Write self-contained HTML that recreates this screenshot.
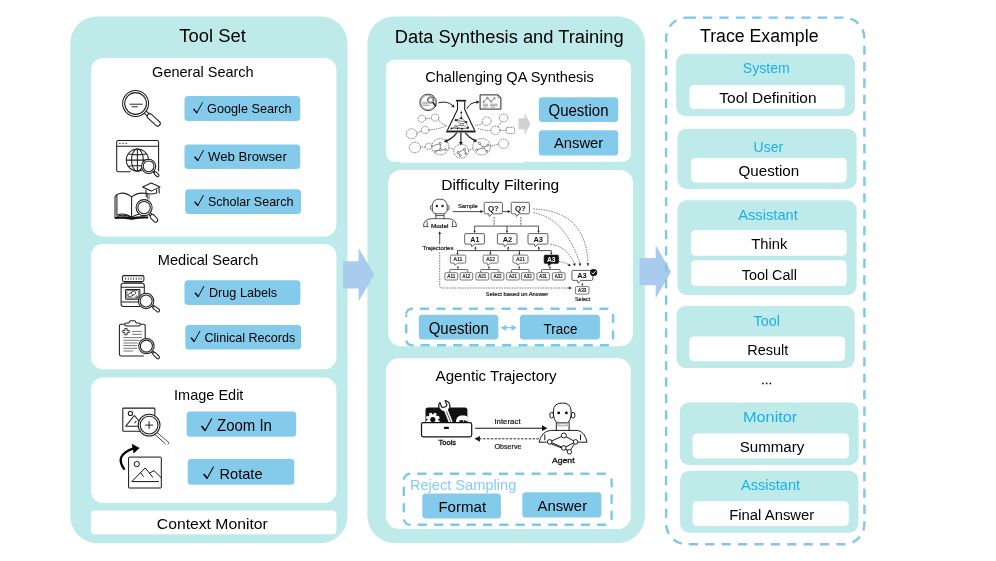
<!DOCTYPE html>
<html><head><meta charset="utf-8"><title>Framework</title>
<style>
html,body{margin:0;padding:0;background:#fff;}
body{width:996px;height:561px;overflow:hidden;font-family:"Liberation Sans",sans-serif;}
svg{will-change:transform;display:block;position:absolute;left:0;top:0;}
svg text{font-family:"Liberation Sans",sans-serif;}
</style></head><body>
<svg width="996" height="561" viewBox="0 0 996 561">
<rect x="70.3" y="16.4" width="277.2" height="526.8" rx="27" ry="27" fill="#BEEBE9" />
<rect x="367.4" y="16.4" width="277.5" height="526.6" rx="27" ry="27" fill="#BEEBE9" />
<rect x="91.0" y="58.0" width="245.4" height="178.6" rx="12" ry="12" fill="#fff" />
<rect x="91.0" y="244.1" width="245.4" height="125.1" rx="12" ry="12" fill="#fff" />
<rect x="91.0" y="377.6" width="245.4" height="125.4" rx="12" ry="12" fill="#fff" />
<rect x="91.0" y="510.5" width="245.4" height="23.8" rx="4" ry="4" fill="#fff" />
<rect x="386.1" y="59.8" width="244.8" height="101.9" rx="8" ry="8" fill="#fff" />
<rect x="388.2" y="170.0" width="244.8" height="176.3" rx="13" ry="13" fill="#fff" />
<rect x="386.0" y="358.2" width="244.8" height="170.8" rx="13" ry="13" fill="#fff" />
<rect x="112" y="86" width="50" height="142" fill="#fefefe"/>
<rect x="112" y="270" width="50" height="94" fill="#fefefe"/>
<rect x="112" y="402" width="58" height="92" fill="#fefefe"/>
<rect x="401" y="86.5" width="122.5" height="76.3" fill="#fefefe"/>
<rect x="416" y="194" width="184" height="110" fill="#fefefe"/>
<rect x="419" y="398.5" width="170" height="67" fill="#fefefe"/>
<path d="M343.1 261.2 H358.6 V248 L374.3 274.7 L358.6 301.4 V288.6 H343.1 Z" fill="#A9CBED"/>
<path d="M639.6 258 H655.7 V245.2 L671.1 271.7 L655.7 298.2 V285.3 H639.6 Z" fill="#A9CBED"/>
<text x="179.3" y="42.1" font-size="18" fill="#000" font-weight="normal" textLength="66.5" lengthAdjust="spacingAndGlyphs" >Tool Set</text>
<text x="152.1" y="77.4" font-size="14.8" fill="#000" font-weight="normal" textLength="101.6" lengthAdjust="spacingAndGlyphs" >General Search</text>
<text x="157.8" y="265.0" font-size="14.8" fill="#000" font-weight="normal" textLength="100.6" lengthAdjust="spacingAndGlyphs" >Medical Search</text>
<text x="174.0" y="400.0" font-size="14.8" fill="#000" font-weight="normal" textLength="69.4" lengthAdjust="spacingAndGlyphs" >Image Edit</text>
<text x="156.8" y="528.6" font-size="14.8" fill="#000" font-weight="normal" textLength="111.0" lengthAdjust="spacingAndGlyphs" >Context Monitor</text>
<rect x="184.5" y="96.0" width="115.7" height="25.0" rx="3.5" ry="3.5" fill="#84CBEB" />
<path d="M193.60 109.00 L197.05 113.10" fill="none" stroke="#000" stroke-width="1.45" stroke-linecap="butt"/><path d="M196.60 113.30 L202.60 102.40" fill="none" stroke="#000" stroke-width="0.95" stroke-linecap="butt"/>
<text x="207.1" y="113.2" font-size="13.3" fill="#000" font-weight="normal" textLength="84.5" lengthAdjust="spacingAndGlyphs" >Google Search</text>
<rect x="184.5" y="144.6" width="115.7" height="24.3" rx="3.5" ry="3.5" fill="#84CBEB" />
<path d="M194.60 156.70 L198.05 160.80" fill="none" stroke="#000" stroke-width="1.45" stroke-linecap="butt"/><path d="M197.60 161.00 L203.60 150.10" fill="none" stroke="#000" stroke-width="0.95" stroke-linecap="butt"/>
<text x="208.0" y="160.9" font-size="13.3" fill="#000" font-weight="normal" textLength="78.8" lengthAdjust="spacingAndGlyphs" >Web Browser</text>
<rect x="185.2" y="189.3" width="115.8" height="24.7" rx="3.5" ry="3.5" fill="#84CBEB" />
<path d="M194.60 201.60 L198.05 205.70" fill="none" stroke="#000" stroke-width="1.45" stroke-linecap="butt"/><path d="M197.60 205.90 L203.60 195.00" fill="none" stroke="#000" stroke-width="0.95" stroke-linecap="butt"/>
<text x="207.9" y="205.8" font-size="13.3" fill="#000" font-weight="normal" textLength="85.6" lengthAdjust="spacingAndGlyphs" >Scholar Search</text>
<rect x="184.5" y="280.2" width="115.9" height="24.9" rx="3.5" ry="3.5" fill="#84CBEB" />
<path d="M195.00 292.70 L198.45 296.80" fill="none" stroke="#000" stroke-width="1.45" stroke-linecap="butt"/><path d="M198.00 297.00 L204.00 286.10" fill="none" stroke="#000" stroke-width="0.95" stroke-linecap="butt"/>
<text x="209.0" y="296.9" font-size="13.3" fill="#000" font-weight="normal" textLength="68.1" lengthAdjust="spacingAndGlyphs" >Drug Labels</text>
<rect x="185.3" y="324.9" width="115.9" height="24.6" rx="3.5" ry="3.5" fill="#84CBEB" />
<path d="M191.00 337.60 L194.45 341.70" fill="none" stroke="#000" stroke-width="1.45" stroke-linecap="butt"/><path d="M194.00 341.90 L200.00 331.00" fill="none" stroke="#000" stroke-width="0.95" stroke-linecap="butt"/>
<text x="204.5" y="341.8" font-size="13.3" fill="#000" font-weight="normal" textLength="90.8" lengthAdjust="spacingAndGlyphs" >Clinical Records</text>
<rect x="186.6" y="411.5" width="109.6" height="25.3" rx="3.5" ry="3.5" fill="#84CBEB" />
<path d="M201.44 426.07 L205.41 430.78" fill="none" stroke="#000" stroke-width="1.67" stroke-linecap="butt"/><path d="M204.89 431.01 L211.79 418.48" fill="none" stroke="#000" stroke-width="1.09" stroke-linecap="butt"/>
<text x="217.0" y="430.9" font-size="16" fill="#000" font-weight="normal" textLength="54.9" lengthAdjust="spacingAndGlyphs" >Zoom In</text>
<rect x="187.7" y="459.1" width="106.6" height="25.7" rx="3.5" ry="3.5" fill="#84CBEB" />
<path d="M203.63 473.98 L207.43 478.49" fill="none" stroke="#000" stroke-width="1.59" stroke-linecap="butt"/><path d="M206.93 478.71 L213.53 466.72" fill="none" stroke="#000" stroke-width="1.04" stroke-linecap="butt"/>
<text x="219.5" y="478.6" font-size="15" fill="#000" font-weight="normal" textLength="43.0" lengthAdjust="spacingAndGlyphs" >Rotate</text>
<text x="394.8" y="43.3" font-size="18" fill="#000" font-weight="normal" textLength="228.8" lengthAdjust="spacingAndGlyphs" >Data Synthesis and Training</text>
<text x="425.2" y="82.1" font-size="14.8" fill="#000" font-weight="normal" textLength="168.7" lengthAdjust="spacingAndGlyphs" >Challenging QA Synthesis</text>
<text x="441.2" y="190.0" font-size="14.8" fill="#000" font-weight="normal" textLength="118.0" lengthAdjust="spacingAndGlyphs" >Difficulty Filtering</text>
<text x="435.6" y="381.0" font-size="14.8" fill="#000" font-weight="normal" textLength="121.1" lengthAdjust="spacingAndGlyphs" >Agentic Trajectory</text>
<rect x="538.8" y="97.3" width="79.4" height="24.8" rx="3.5" ry="3.5" fill="#84CBEB" />
<text x="548.5" y="115.5" font-size="16" fill="#000" font-weight="normal" textLength="60.0" lengthAdjust="spacingAndGlyphs" >Question</text>
<rect x="538.8" y="130.3" width="79.4" height="25.2" rx="3.5" ry="3.5" fill="#84CBEB" />
<text x="553.9" y="148.1" font-size="15.5" fill="#000" font-weight="normal" textLength="49.4" lengthAdjust="spacingAndGlyphs" >Answer</text>
<path d="M518.5 118.2 H524.5 V112.6 L530.6 123.95 L524.5 135.3 V129.3 H518.5 Z" fill="#D2D2D2"/>
<path d="M406.2 314.5 A5.8 5.8 0 0 1 412.0 308.7 H607.3000000000001 A5.8 5.8 0 0 1 613.1 314.5 V339.4 A5.8 5.8 0 0 1 607.3000000000001 345.2 H412.0 A5.8 5.8 0 0 1 406.2 339.4 Z" fill="none" stroke="#7CC7EA" stroke-width="2.4" stroke-dasharray="9.15 7.15" stroke-dashoffset="-0.6"/>
<rect x="418.8" y="314.7" width="79.5" height="24.8" rx="3.5" ry="3.5" fill="#84CBEB" />
<text x="428.7" y="333.7" font-size="15.8" fill="#000" font-weight="normal" textLength="60.1" lengthAdjust="spacingAndGlyphs" >Question</text>
<rect x="519.9" y="314.7" width="80.0" height="24.8" rx="3.5" ry="3.5" fill="#84CBEB" />
<text x="543.6" y="333.9" font-size="15.2" fill="#000" font-weight="normal" textLength="33.8" lengthAdjust="spacingAndGlyphs" >Trace</text>
<path d="M505 327.7 H512.5" stroke="#7CC7EA" stroke-width="1.3"/><path d="M500.6 327.7 l5.6 -3 v6z M517 327.7 l-5.6 -3 v6z" fill="#7CC7EA"/>
<path d="M403.8 480.3 A6.5 6.5 0 0 1 410.3 473.8 H605.1 A6.5 6.5 0 0 1 611.6 480.3 V518.3 A6.5 6.5 0 0 1 605.1 524.8 H410.3 A6.5 6.5 0 0 1 403.8 518.3 Z" fill="none" stroke="#7CC7EA" stroke-width="2.4" stroke-dasharray="9.15 7.15" stroke-dashoffset="-0.7"/>
<text x="409.9" y="489.6" font-size="14" fill="#86CCEE" font-weight="normal" textLength="106.4" lengthAdjust="spacingAndGlyphs" >Reject Sampling</text>
<rect x="422.3" y="493.4" width="78.6" height="25.0" rx="3.5" ry="3.5" fill="#84CBEB" />
<text x="438.4" y="512.0" font-size="15" fill="#000" font-weight="normal" textLength="47.7" lengthAdjust="spacingAndGlyphs" >Format</text>
<rect x="522.3" y="492.3" width="79.1" height="25.3" rx="3.5" ry="3.5" fill="#84CBEB" />
<text x="537.5" y="511.4" font-size="15" fill="#000" font-weight="normal" textLength="49.6" lengthAdjust="spacingAndGlyphs" >Answer</text>
<rect x="666.1" y="17.65" width="198.3" height="526.6" rx="20.5" fill="none" stroke="#7CC7EA" stroke-width="2.4" stroke-dasharray="9.2 7.2"/>
<text x="700.0" y="42.3" font-size="17.6" fill="#000" font-weight="normal" textLength="118.5" lengthAdjust="spacingAndGlyphs" >Trace Example</text>
<rect x="676.2" y="53.8" width="178.8" height="62.1" rx="9" ry="9" fill="#BEEBE9" />
<text x="742.8" y="72.9" font-size="14.3" fill="#1CAEEB" font-weight="normal" textLength="46.9" lengthAdjust="spacingAndGlyphs" >System</text>
<rect x="689.5" y="85.1" width="155.3" height="23.8" rx="4.5" ry="4.5" fill="#fff" />
<text x="719.3" y="102.9" font-size="14" fill="#000" font-weight="normal" textLength="97.3" lengthAdjust="spacingAndGlyphs" >Tool Definition</text>
<rect x="677.5" y="128.7" width="179.1" height="60.3" rx="9" ry="9" fill="#BEEBE9" />
<text x="753.6" y="152.1" font-size="14.3" fill="#1CAEEB" font-weight="normal" textLength="29.5" lengthAdjust="spacingAndGlyphs" >User</text>
<rect x="691.0" y="157.9" width="155.7" height="24.7" rx="4.5" ry="4.5" fill="#fff" />
<text x="738.5" y="176.2" font-size="14" fill="#000" font-weight="normal" textLength="60.7" lengthAdjust="spacingAndGlyphs" >Question</text>
<rect x="677.5" y="200.3" width="179.1" height="94.7" rx="9" ry="9" fill="#BEEBE9" />
<text x="738.2" y="220.2" font-size="14.3" fill="#1CAEEB" font-weight="normal" textLength="59.7" lengthAdjust="spacingAndGlyphs" >Assistant</text>
<rect x="691.0" y="230.1" width="155.7" height="25.7" rx="4.5" ry="4.5" fill="#fff" />
<text x="751.3" y="249.4" font-size="14" fill="#000" font-weight="normal" textLength="36.0" lengthAdjust="spacingAndGlyphs" >Think</text>
<rect x="691.0" y="260.3" width="155.7" height="25.7" rx="4.5" ry="4.5" fill="#fff" />
<text x="741.7" y="279.5" font-size="14" fill="#000" font-weight="normal" textLength="55.2" lengthAdjust="spacingAndGlyphs" >Tool Call</text>
<rect x="676.5" y="306.0" width="178.2" height="62.0" rx="9" ry="9" fill="#BEEBE9" />
<text x="753.6" y="326.0" font-size="14.3" fill="#1CAEEB" font-weight="normal" textLength="26.3" lengthAdjust="spacingAndGlyphs" >Tool</text>
<rect x="689.4" y="336.5" width="155.7" height="24.8" rx="4.5" ry="4.5" fill="#fff" />
<text x="747.2" y="355.2" font-size="14" fill="#000" font-weight="normal" textLength="41.1" lengthAdjust="spacingAndGlyphs" >Result</text>
<path d="M762.2 382.7h1.5v1.5h-1.5z M765.9 382.7h1.5v1.5h-1.5z M769.6 382.7h1.5v1.5h-1.5z" fill="#000"/>
<rect x="679.8" y="402.4" width="178.8" height="62.6" rx="9" ry="9" fill="#BEEBE9" />
<text x="743.0" y="422.3" font-size="14.3" fill="#1CAEEB" font-weight="normal" textLength="54.3" lengthAdjust="spacingAndGlyphs" >Monitor</text>
<rect x="692.6" y="433.5" width="156.3" height="25.0" rx="4.5" ry="4.5" fill="#fff" />
<text x="739.8" y="451.5" font-size="14" fill="#000" font-weight="normal" textLength="64.5" lengthAdjust="spacingAndGlyphs" >Summary</text>
<rect x="680.1" y="470.8" width="178.3" height="61.9" rx="9" ry="9" fill="#BEEBE9" />
<text x="740.9" y="490.1" font-size="14.3" fill="#1CAEEB" font-weight="normal" textLength="59.3" lengthAdjust="spacingAndGlyphs" >Assistant</text>
<rect x="692.6" y="501.3" width="156.1" height="24.8" rx="4.5" ry="4.5" fill="#fff" />
<text x="729.2" y="519.6" font-size="14" fill="#000" font-weight="normal" textLength="85.1" lengthAdjust="spacingAndGlyphs" >Final Answer</text>
<g stroke="#1e1e1e" stroke-width="1.05" fill="none"><g transform="translate(145.24 112.22) rotate(42.1)"><rect x="3.48" y="-2.60" width="15.87" height="5.20" rx="2.60" fill="#fff"/><path d="M-0.3 -1.46 L3.87 -1.46 M-0.3 1.46 L3.87 1.46"/></g><circle cx="135.6" cy="103.5" r="13" fill="#fff"/><circle cx="135.6" cy="103.5" r="10.9"/></g>
<path d="M129.7 104.2 H142.5 M131.7 106.8 H137.8" stroke="#1e1e1e" stroke-width="0.95" fill="none"/>
<g stroke="#1e1e1e" stroke-width="1.05" fill="none"><path d="M130.7 171.7 H118.2 a1.5 1.5 0 0 1 -1.5 -1.5 V142 a1.5 1.5 0 0 1 1.5 -1.5 H157.1 a1.5 1.5 0 0 1 1.5 1.5 V171.2"/><path d="M116.7 146.3 H158.6"/><circle cx="137.4" cy="160.1" r="11.1"/><ellipse cx="137.4" cy="160.1" rx="5.9" ry="11.1"/><path d="M137.4 149 V171.2 M126.3 160.1 H148.5 M128.3 154.1 Q137.4 155.6 146.5 154.1 M128.3 166.3 Q137.4 164.8 146.5 166.3"/></g>
<g fill="#1e1e1e"><circle cx="119.9" cy="143.4" r="0.65"/><circle cx="123" cy="143.4" r="0.65"/><circle cx="126.1" cy="143.4" r="0.65"/></g>
<g stroke="#1e1e1e" stroke-width="1.05" fill="none"><g transform="translate(153.62 171.32) rotate(45.0)"><rect x="1.27" y="-1.30" width="5.77" height="2.60" rx="1.30" fill="#fff"/><path d="M-0.3 -0.73 L1.41 -0.73 M-0.3 0.73 L1.41 0.73"/></g><circle cx="148.6" cy="166.3" r="7.1" fill="#fff"/><circle cx="148.6" cy="166.3" r="5.4"/></g>
<g stroke="#1e1e1e" stroke-width="1.05" fill="none" stroke-linejoin="round"><path d="M115 196.8 V218.2 M116.9 194.6 V215.6"/><path d="M115 196.8 L116.9 194.6 Q124 190.8 131.6 196.9 Q138 191.8 146.3 193.6 V197"/><path d="M131.6 196.9 V217.4"/><path d="M116.9 215.2 Q124.5 212.2 131.6 217.2 Q135.5 214.6 139 214.2"/><path d="M116.9 216.4 Q124.5 213.8 131.6 217.6"/></g>
<path d="M115 217 Q124 215.6 131.6 217.2 Q140 215.8 148.2 216.6 L148.2 218.6 Q140 218.2 133.4 219.4 Q131.6 220.2 129.8 219.4 Q123 218.2 115 219 Z" fill="#111"/>
<g stroke="#1e1e1e" stroke-width="1.05" fill="#fff" stroke-linejoin="round"><path d="M145.9 189.6 V193 Q151.2 195 156.6 193 V189.6"/><path d="M142.6 187.1 L151.2 183.1 L160.1 186.9 L151.2 191.1 Z"/><path d="M158.9 187.6 L159.3 193.4" fill="none" stroke-width="1.1"/><path d="M147.4 194 V199 M149 194.4 V199.6" fill="none" stroke-width="0.7"/></g>
<g stroke="#1e1e1e" stroke-width="1.05" fill="none"><g transform="translate(149.52 213.48) rotate(47.3)"><rect x="1.99" y="-2.20" width="9.05" height="4.40" rx="2.20" fill="#fff"/><path d="M-0.3 -1.23 L2.21 -1.23 M-0.3 1.23 L2.21 1.23"/></g><circle cx="144.1" cy="207.6" r="8" fill="#fff"/><circle cx="144.1" cy="207.6" r="6.2"/></g>
<g stroke="#1e1e1e" stroke-width="1.05" fill="none"><rect x="122.5" y="275.6" width="21.4" height="5.8" rx="1.4" fill="#fff"/><path d="M125.6 277.4 V279.9 M128.3 277.4 V279.9 M131 277.4 V279.9 M133.6 277.4 V279.9 M136.3 277.4 V279.9 M139 277.4 V279.9 M141.2 277.4 V279.9" stroke-width="0.7"/><path d="M124.7 281.4 V283.3 M141.6 281.4 V283.3 M124.7 282.4 H141.6" stroke-width="0.7"/><rect x="121.1" y="283.3" width="23.2" height="23.2" rx="2.2" fill="#fff"/><path d="M121.1 287.2 H144.3 M121.1 301.9 H139"/><rect x="125.6" y="289.4" width="14.3" height="9.8" rx="0.8"/><rect x="126.9" y="290.6" width="11.7" height="7.4" rx="0.5" stroke-width="0.6"/><g transform="translate(131.8 294) rotate(-30)"><rect x="-4.2" y="-1.7" width="8.4" height="3.4" rx="1.7" stroke-width="0.8"/><path d="M0 -1.7 V1.7" stroke-width="0.6"/></g><circle cx="136.8" cy="296.8" r="1" stroke-width="0.7"/></g>
<g stroke="#1e1e1e" stroke-width="1.05" fill="none"><g transform="translate(152.13 305.79) rotate(38.4)"><rect x="1.62" y="-1.50" width="7.40" height="3.00" rx="1.50" fill="#fff"/><path d="M-0.3 -0.84 L1.81 -0.84 M-0.3 0.84 L1.81 0.84"/></g><circle cx="146.1" cy="301" r="7.7" fill="#fff"/><circle cx="146.1" cy="301" r="6"/></g>
<g stroke="#1e1e1e" stroke-width="1.05" fill="none" stroke-linejoin="round"><path d="M143.8 355.9 H121.2 a1.8 1.8 0 0 1 -1.8 -1.8 V326 a1.8 1.8 0 0 1 1.8 -1.8 H143.4 a1.8 1.8 0 0 1 1.8 1.8 V339" fill="#fff"/><path d="M124.7 324.4 q0 -1.5 1.6 -1.5 h2.2 q0.6 0 0.7 -0.8 q0.2 -1.4 1.4 -1.4 h3.8 q1.2 0 1.4 1.4 q0.1 0.8 0.7 0.8 h2.2 q1.6 0 1.6 1.5 q0 1.6 -1.6 1.6 h-12.4 q-1.6 0 -1.6 -1.6 z" fill="#fff"/><path d="M124.9 328.4 h2.2 v2.1 h2.1 v2.2 h-2.1 v2.1 h-2.2 v-2.1 h-2.1 v-2.2 h2.1 z" stroke-width="0.9"/></g>
<path d="M132.1 331.4 H141.9 M132.1 334.3 H141.9 M123.4 337.6 H141.9 M123.4 340.3 H139.4 M123.4 343 H137.6 M123.4 345.6 H137.2 M123.4 348.3 H137.2 M123.4 351 H133.2" stroke="#555" stroke-width="0.8" fill="none"/>
<g stroke="#1e1e1e" stroke-width="1.05" fill="none"><g transform="translate(151.93 351.46) rotate(44.1)"><rect x="1.77" y="-1.50" width="8.07" height="3.00" rx="1.50" fill="#fff"/><path d="M-0.3 -0.84 L1.97 -0.84 M-0.3 0.84 L1.97 0.84"/></g><circle cx="146.4" cy="346.1" r="7.7" fill="#fff"/><circle cx="146.4" cy="346.1" r="6"/></g>
<g stroke="#1e1e1e" stroke-width="1.05" fill="none" stroke-linejoin="round"><rect x="122.8" y="408.1" width="32" height="23.1" rx="0.8" fill="#fff"/><circle cx="130.4" cy="413.4" r="2.1"/><path d="M125.6 426.3 L134.4 415.5 L140.5 422.6 M136.4 421 L134.6 423.2 M125.6 426.3 H139.5"/></g>
<g stroke="#1e1e1e" stroke-width="0.8" fill="none"><path d="M156.6 432.0 L168.4 442.2 q0.8 1.4 -0.6 2.2 M154.6 434.2 L165.6 444.0"/></g>
<g stroke="#1e1e1e" stroke-width="1.05" fill="none"><circle cx="149.1" cy="425.1" r="10.9" fill="#fff"/><circle cx="149.1" cy="425.1" r="8.9"/><path d="M145.2 425.1 H153 M149.1 421.2 V429" stroke-width="1"/></g>
<g stroke="#111" stroke-width="1" fill="none" stroke-linejoin="round"><rect x="128.6" y="457.1" width="32.7" height="30.9" rx="0.6" fill="#fff"/><circle cx="136.8" cy="464.1" r="2.6"/><path d="M131.6 481.6 H158.9 M132.4 481 L145.2 467.9 L153 477.6 M140.6 472.8 L143.6 476.6 M149.4 473.2 L154 470.6 L161.3 477.8"/></g>
<path d="M124.6 469.6 Q113.6 455.4 133.4 448.3" stroke="#000" stroke-width="2.3" fill="none"/>
<path d="M131.8 443.8 L139.6 448 L133.6 453.4 Z" fill="#000"/>
<g stroke="#222" stroke-width="0.65" fill="none" stroke-dasharray="1 0.8"><ellipse cx="421.8" cy="118.7" rx="3.8" ry="3.57"/><ellipse cx="435.1" cy="117.6" rx="3.8" ry="3.57"/><ellipse cx="411.6" cy="133.8" rx="5.3" ry="4.98"/><ellipse cx="425.1" cy="130" rx="3.8" ry="3.57"/><ellipse cx="414.9" cy="147.5" rx="5.6" ry="5.26"/><ellipse cx="428.6" cy="146.2" rx="3.3" ry="3.10"/><ellipse cx="440.3" cy="146.7" rx="8.6" ry="8.08"/><ellipse cx="461.2" cy="151.2" rx="7.4" ry="6.96"/><ellipse cx="481.6" cy="146.7" rx="8.8" ry="8.27"/><ellipse cx="503.6" cy="143.7" rx="5" ry="4.70"/><ellipse cx="486.5" cy="121.2" rx="4.5" ry="4.23"/><ellipse cx="503.6" cy="117.9" rx="4.2" ry="3.95"/><ellipse cx="495.3" cy="130.3" rx="4.5" ry="4.23"/><rect x="506.2" y="127.3" width="8.3" height="6.1" rx="1.2"/><path d="M425.6 118.4 H431.3 M438.6 119.5 Q441 124.5 446.5 125.5 M417 133 L421.4 131 M428.9 130 Q438 129.5 446.8 125.8 M420.5 147 H425.3 M431.9 146.2 H434 M448.9 147.5 L454 149.5 M468.6 150.5 L473 148.5 M490.4 146 L498.6 144.3 M475 125 Q480 126 482.3 122.5 M478 128.5 Q486 131 490.8 130.4 M499.8 130.3 H506.2 M498 126.8 L501.5 121.6"/></g>
<g stroke="#1c1c1c" stroke-width="0.5" fill="#fff"><path d="M440.3 143.6 L440.3 149.8 M436 151 L440.3 149.8 L445.5 149.6 M433.6 145.5 L440.3 143.6" fill="none"/><circle cx="440.3" cy="143.4" r="1.1"/><circle cx="440.3" cy="149.8" r="1.1"/><circle cx="435.6" cy="151.2" r="1"/><circle cx="445.6" cy="149.6" r="1"/><path d="M458 152.6 L464.6 149.4 L465.6 153.4 M458 152.6 L460.4 155.4" fill="none"/><circle cx="458" cy="152.6" r="1.1"/><circle cx="464.6" cy="149.2" r="1.1"/><circle cx="465.8" cy="153.6" r="0.9"/><circle cx="460.4" cy="155.6" r="0.9"/><path d="M479.6 143.6 L483.4 147.4 L487.6 145.4 M476.8 150 L483.4 147.4 L486.6 151" fill="none"/><circle cx="479.4" cy="143.4" r="1.1"/><circle cx="483.4" cy="147.4" r="1.2"/><circle cx="487.8" cy="145.2" r="1"/><circle cx="476.6" cy="150.2" r="1"/><circle cx="486.8" cy="151.2" r="1"/></g>
<g stroke="#1c1c1c" fill="none" stroke-linejoin="round"><path d="M455.9 100.7 H466.1" stroke-width="1.7"/><path d="M457.5 101.4 V109.6 L447.3 130.4 M464.7 101.4 V109.6 L474.7 130.4" stroke-width="1.1"/><path d="M446.2 131.5 H475.6" stroke-width="1.9"/><path d="M461.3 112.4 V118.2 L455.9 120.1 L466.2 122 L461.7 124.6 L455.9 120.1 M461.7 124.6 L455.3 126.5 L451.4 128.5 H468.1 L461.7 124.6 M455.3 126.5 L462.1 128.8 M466.2 122 L468.1 127.8 M461.3 118.2 L466.2 122" stroke-width="0.5"/></g>
<g fill="#1c1c1c"><circle cx="461.3" cy="112.4" r="0.95"/><circle cx="461.3" cy="118.2" r="1.15"/><circle cx="455.9" cy="120.1" r="1.2"/><circle cx="466.2" cy="122" r="1.1"/><circle cx="451.4" cy="128.5" r="0.95"/><circle cx="462.1" cy="128.8" r="1"/><circle cx="468.1" cy="127.8" r="1"/><circle cx="457.6" cy="128.6" r="0.8"/></g>
<circle cx="461.7" cy="124.6" r="1.35" fill="#fff" stroke="#1c1c1c" stroke-width="0.6"/><circle cx="455.3" cy="126.5" r="1" fill="#fff" stroke="#1c1c1c" stroke-width="0.55"/>
<path d="M460.9 132.6 V142.6 M456.8 132.8 Q452.4 138.4 447 140.6 M465.2 132.8 Q469.2 137.6 474.2 140.1" stroke="#1c1c1c" stroke-width="1.2" fill="none"/>
<path d="M460.90 145.60 L459.00 142.00 L462.80 142.00 Z" fill="#1c1c1c"/>
<path d="M443.80 142.10 L446.46 139.08 L447.81 142.42 Z" fill="#1c1c1c"/>
<path d="M477.20 141.80 L473.18 141.70 L474.87 138.52 Z" fill="#1c1c1c"/>
<g stroke="#1c1c1c" stroke-width="0.8" fill="none"><circle cx="428.1" cy="102.4" r="8.3"/><circle cx="428.1" cy="102.4" r="7.3" stroke-width="0.4"/><circle cx="430.6" cy="100" r="3.2" stroke-width="0.7"/><circle cx="430.6" cy="100" r="2.2" stroke-width="0.4"/><path d="M432.8 102.4 L436 106.2" stroke-width="1.5"/><path d="M422.4 102.2 H427 M422.4 103.8 H428.6 M422.4 105.4 H430" stroke="#666" stroke-width="0.6"/></g>
<path d="M438.4 102.8 Q447.6 100.6 452.4 105.4" stroke="#1c1c1c" stroke-width="1" fill="none"/>
<path d="M454.80 107.60 L451.20 106.51 L453.34 104.14 Z" fill="#1c1c1c"/>
<path d="M466.9 108.8 Q469.8 102.6 476.8 102.2" stroke="#1c1c1c" stroke-width="1" fill="none"/>
<path d="M479.80 102.10 L476.46 103.82 L476.35 100.62 Z" fill="#1c1c1c"/>
<g stroke="#1c1c1c" stroke-width="0.95" fill="none" stroke-linejoin="round"><path d="M480.1 94.9 H498 L500.9 97.6 V109.1 H480.1 Z" fill="#fff"/><path d="M498 94.9 V97.6 H500.9" stroke-width="0.5"/><path d="M483.6 102 L487.4 97.8 L491 101.6 L494.6 98.2" stroke-width="0.6"/><path d="M483 104.2 H488 M490 104.2 H497.6 M483 105.6 H488 M490 105.6 H497.6 M483.6 107.2 H487.4 M490.6 107.2 H495" stroke="#666" stroke-width="0.6"/></g>
<g fill="#fff" stroke="#1c1c1c" stroke-width="0.45"><circle cx="483.6" cy="102" r="0.8"/><circle cx="487.4" cy="97.8" r="0.8"/><circle cx="491" cy="101.6" r="0.8"/><circle cx="494.6" cy="98.2" r="0.8"/></g>
<g stroke="#1c1c1c" stroke-width="0.75" fill="#fff" stroke-linejoin="round"><path d="M423.5 226.6 H428.6 M451.5 226.6 H456.4 M423.5 226.6 Q423.4 219.2 431 218.7 H449 Q456.4 219.2 456.4 226.6 M427.2 221 V226.6 M452.6 221 V226.6" fill="none"/><path d="M435.8 213 V218.7 M444 213 V218.7 M435.8 215.6 H444" fill="none"/><ellipse cx="431.7" cy="207.7" rx="1.3" ry="2.3"/><ellipse cx="447.8" cy="207.7" rx="1.3" ry="2.3"/><path d="M432.3 206.4 Q432.3 199.1 439.75 199.1 Q447.2 199.1 447.2 206.4 V209 Q447.2 213.8 442.6 213.8 H436.9 Q432.3 213.8 432.3 209 Z"/></g>
<circle cx="436.9" cy="206" r="1.2" fill="#1c1c1c"/><circle cx="442.5" cy="206" r="1.2" fill="#1c1c1c"/>
<text x="431" y="227.5" font-size="6.2" fill="#111" stroke="#111" stroke-width="0.22" textLength="17.4" lengthAdjust="spacingAndGlyphs">Model</text>
<text x="457.9" y="207.9" font-size="5.6" font-weight="normal" fill="#111" stroke="#111" stroke-width="0.16" textLength="19.9" lengthAdjust="spacingAndGlyphs">Sample</text>
<text x="422.4" y="249.6" font-size="5.6" font-weight="normal" fill="#111" stroke="#111" stroke-width="0.16" textLength="31.0" lengthAdjust="spacingAndGlyphs">Trajectories</text>
<path d="M452.9 211.6 H480.6 M502.4 211.6 H507.6" stroke="#1c1c1c" stroke-width="0.8" fill="none"/>
<path d="M483.60 211.60 L480.40 213.10 L480.40 210.10 Z" fill="#1c1c1c"/>
<path d="M510.60 211.60 L507.60 213.10 L507.60 210.10 Z" fill="#1c1c1c"/>
<path d="M485.5 202.3 H501.09999999999997 Q502.4 202.3 502.4 203.60000000000002 V212.5 Q502.4 213.8 501.09999999999997 213.8 H492.3 L489.3 216.4 L488.7 213.8 H485.5 Q484.2 213.8 484.2 212.5 V203.60000000000002 Q484.2 202.3 485.5 202.3 Z" fill="#fff" stroke="#1c1c1c" stroke-width="0.7" stroke-linejoin="round"/>
<text x="487.9" y="211.2" font-size="7.6" font-weight="bold" fill="#111" textLength="11.0" lengthAdjust="spacingAndGlyphs">Q?</text>
<path d="M512.5 202.3 H528.1 Q529.4 202.3 529.4 203.60000000000002 V212.5 Q529.4 213.8 528.1 213.8 H519.3000000000001 L516.3000000000001 216.4 L515.7 213.8 H512.5 Q511.2 213.8 511.2 212.5 V203.60000000000002 Q511.2 202.3 512.5 202.3 Z" fill="#fff" stroke="#1c1c1c" stroke-width="0.7" stroke-linejoin="round"/>
<text x="514.9" y="211.2" font-size="7.6" font-weight="bold" fill="#111" textLength="11.0" lengthAdjust="spacingAndGlyphs">Q?</text>
<path d="M494.1 217 V226 M520.9 217 V226" stroke="#333" stroke-width="1" stroke-dasharray="0.75 0.75" fill="none"/>
<path d="M474.6 231 V226.1 H538.5 V231 M507 226.1 V231" stroke="#1c1c1c" stroke-width="0.75" fill="none"/>
<path d="M474.60 233.20 L473.50 230.80 L475.70 230.80 Z" fill="#1c1c1c"/>
<path d="M507.00 233.20 L505.90 230.80 L508.10 230.80 Z" fill="#1c1c1c"/>
<path d="M538.50 233.20 L537.40 230.80 L539.60 230.80 Z" fill="#1c1c1c"/>
<path d="M466.0 233.6 H483.09999999999997 Q484.4 233.6 484.4 234.9 V242.79999999999998 Q484.4 244.1 483.09999999999997 244.1 H474.70000000000005 L471.70000000000005 246.7 L471.1 244.1 H466.0 Q464.7 244.1 464.7 242.79999999999998 V234.9 Q464.7 233.6 466.0 233.6 Z" fill="#fff" stroke="#1c1c1c" stroke-width="0.7" stroke-linejoin="round"/>
<text x="470.3" y="241.9" font-size="7.4" font-weight="bold" fill="#111" textLength="9.0" lengthAdjust="spacingAndGlyphs">A1</text>
<path d="M498.7 233.6 H515.7 Q517 233.6 517 234.9 V242.79999999999998 Q517 244.1 515.7 244.1 H507.40000000000003 L504.40000000000003 246.7 L503.8 244.1 H498.7 Q497.4 244.1 497.4 242.79999999999998 V234.9 Q497.4 233.6 498.7 233.6 Z" fill="#fff" stroke="#1c1c1c" stroke-width="0.7" stroke-linejoin="round"/>
<text x="502.7" y="241.9" font-size="7.4" font-weight="bold" fill="#111" textLength="9.5" lengthAdjust="spacingAndGlyphs">A2</text>
<path d="M529.3 233.6 H546.6 Q547.9 233.6 547.9 234.9 V242.79999999999998 Q547.9 244.1 546.6 244.1 H538.0 L535.0 246.7 L534.4 244.1 H529.3 Q528 244.1 528 242.79999999999998 V234.9 Q528 233.6 529.3 233.6 Z" fill="#fff" stroke="#1c1c1c" stroke-width="0.7" stroke-linejoin="round"/>
<text x="533.4" y="241.9" font-size="7.4" font-weight="bold" fill="#111" textLength="9.6" lengthAdjust="spacingAndGlyphs">A3</text>
<path d="M475.4 250.6 V248 M508.2 250.6 V248 M538.8 250.6 V248" stroke="#1c1c1c" stroke-width="0.7" fill="none"/>
<path d="M475.40 246.20 L476.40 248.40 L474.40 248.40 Z" fill="#1c1c1c"/>
<path d="M508.20 246.20 L509.20 248.40 L507.20 248.40 Z" fill="#1c1c1c"/>
<path d="M538.80 246.20 L539.80 248.40 L537.80 248.40 Z" fill="#1c1c1c"/>
<path d="M457.5 253.4 V250.6 H551.3 V253.4 M490.4 250.6 V253.4 M519.4 250.6 V253.4" stroke="#1c1c1c" stroke-width="0.8" fill="none"/>
<path d="M457.50 255.00 L456.50 253.00 L458.50 253.00 Z" fill="#1c1c1c"/>
<path d="M490.40 255.00 L489.40 253.00 L491.40 253.00 Z" fill="#1c1c1c"/>
<path d="M519.40 255.00 L518.40 253.00 L520.40 253.00 Z" fill="#1c1c1c"/>
<path d="M551.30 255.00 L550.30 253.00 L552.30 253.00 Z" fill="#1c1c1c"/>
<path d="M451.7 255.1 H464.4 Q465.7 255.1 465.7 256.4 V261.8 Q465.7 263.1 464.4 263.1 H457.8 L454.8 265.3 L454.2 263.1 H451.7 Q450.4 263.1 450.4 261.8 V256.4 Q450.4 255.1 451.7 255.1 Z" fill="#fff" stroke="#1c1c1c" stroke-width="0.6" stroke-linejoin="round"/>
<text x="453.6" y="261.4" font-size="4.9" font-weight="normal" fill="#111" stroke="#111" stroke-width="0.16" textLength="8.9" lengthAdjust="spacingAndGlyphs">A11</text>
<path d="M484.5 255.1 H496.8 Q498.1 255.1 498.1 256.4 V261.8 Q498.1 263.1 496.8 263.1 H490.6 L487.6 265.3 L487 263.1 H484.5 Q483.2 263.1 483.2 261.8 V256.4 Q483.2 255.1 484.5 255.1 Z" fill="#fff" stroke="#1c1c1c" stroke-width="0.6" stroke-linejoin="round"/>
<text x="486.2" y="261.4" font-size="4.9" font-weight="normal" fill="#111" stroke="#111" stroke-width="0.16" textLength="9.0" lengthAdjust="spacingAndGlyphs">A12</text>
<path d="M514.3 255.1 H526.7 Q528 255.1 528 256.4 V261.8 Q528 263.1 526.7 263.1 H520.4 L517.4 265.3 L516.8 263.1 H514.3 Q513 263.1 513 261.8 V256.4 Q513 255.1 514.3 255.1 Z" fill="#fff" stroke="#1c1c1c" stroke-width="0.6" stroke-linejoin="round"/>
<text x="516.2" y="261.4" font-size="4.9" font-weight="normal" fill="#111" stroke="#111" stroke-width="0.16" textLength="8.8" lengthAdjust="spacingAndGlyphs">A21</text>
<path d="M545.4 255.1 H557.3000000000001 Q558.6 255.1 558.6 256.4 V262.3 Q558.6 263.6 557.3000000000001 263.6 H551.6 L548.6 265.8 L548 263.6 H545.4 Q544.1 263.6 544.1 262.3 V256.4 Q544.1 255.1 545.4 255.1 Z" fill="#111" stroke="#1c1c1c" stroke-width="0.6" stroke-linejoin="round"/>
<text x="547.0" y="262.0" font-size="6.8" font-weight="bold" fill="#fff" textLength="8.6" lengthAdjust="spacingAndGlyphs">A3</text>
<path d="M449.7 272.4 V270.4 Q449.7 269.5 450.7 269.5 H466.8 Q467.8 269.5 467.8 270.4 V272.4 M457.9 269.5 V267.6" stroke="#1c1c1c" stroke-width="0.65" fill="none"/>
<path d="M457.90 265.80 L458.85 267.80 L456.95 267.80 Z" fill="#1c1c1c"/>
<path d="M480.7 272.4 V270.4 Q480.7 269.5 481.7 269.5 H497.9 Q498.9 269.5 498.9 270.4 V272.4 M488.9 269.5 V267.6" stroke="#1c1c1c" stroke-width="0.65" fill="none"/>
<path d="M488.90 265.80 L489.85 267.80 L487.95 267.80 Z" fill="#1c1c1c"/>
<path d="M511.4 272.4 V270.4 Q511.4 269.5 512.4 269.5 H528.1 Q529.1 269.5 529.1 270.4 V272.4 M519.3 269.5 V267.6" stroke="#1c1c1c" stroke-width="0.65" fill="none"/>
<path d="M519.35 265.80 L520.30 267.80 L518.40 267.80 Z" fill="#1c1c1c"/>
<path d="M541.5 272.4 V270.4 Q541.5 269.5 542.5 269.5 H559.1 Q560.1 269.5 560.1 270.4 V272.4 M549.9 269.5 V267.6" stroke="#1c1c1c" stroke-width="0.65" fill="none"/>
<path d="M549.90 265.80 L550.85 267.80 L548.95 267.80 Z" fill="#1c1c1c"/>
<rect x="444.9" y="272.7" width="12.8" height="7.3" rx="1.2" fill="#fff" stroke="#1c1c1c" stroke-width="0.6"/>
<text x="447.3" y="278.3" font-size="4.5" font-weight="normal" fill="#111" stroke="#111" stroke-width="0.16" textLength="8.0" lengthAdjust="spacingAndGlyphs">A11</text>
<rect x="460.1" y="272.7" width="12.6" height="7.3" rx="1.2" fill="#fff" stroke="#1c1c1c" stroke-width="0.6"/>
<text x="462.5" y="278.3" font-size="4.5" font-weight="normal" fill="#111" stroke="#111" stroke-width="0.16" textLength="7.8" lengthAdjust="spacingAndGlyphs">A12</text>
<rect x="475.9" y="272.7" width="12.8" height="7.3" rx="1.2" fill="#fff" stroke="#1c1c1c" stroke-width="0.6"/>
<text x="478.3" y="278.3" font-size="4.5" font-weight="normal" fill="#111" stroke="#111" stroke-width="0.16" textLength="8.0" lengthAdjust="spacingAndGlyphs">A21</text>
<rect x="491.1" y="272.7" width="12.8" height="7.3" rx="1.2" fill="#fff" stroke="#1c1c1c" stroke-width="0.6"/>
<text x="493.5" y="278.3" font-size="4.5" font-weight="normal" fill="#111" stroke="#111" stroke-width="0.16" textLength="8.0" lengthAdjust="spacingAndGlyphs">A22</text>
<rect x="506.6" y="272.7" width="12.7" height="7.3" rx="1.2" fill="#fff" stroke="#1c1c1c" stroke-width="0.6"/>
<text x="509.0" y="278.3" font-size="4.5" font-weight="normal" fill="#111" stroke="#111" stroke-width="0.16" textLength="7.9" lengthAdjust="spacingAndGlyphs">A21</text>
<rect x="521.4" y="272.7" width="12.6" height="7.3" rx="1.2" fill="#fff" stroke="#1c1c1c" stroke-width="0.6"/>
<text x="523.8" y="278.3" font-size="4.5" font-weight="normal" fill="#111" stroke="#111" stroke-width="0.16" textLength="7.8" lengthAdjust="spacingAndGlyphs">A32</text>
<rect x="536.9" y="272.7" width="12.5" height="7.3" rx="1.2" fill="#fff" stroke="#1c1c1c" stroke-width="0.6"/>
<text x="539.3" y="278.3" font-size="4.5" font-weight="normal" fill="#111" stroke="#111" stroke-width="0.16" textLength="7.7" lengthAdjust="spacingAndGlyphs">A31</text>
<rect x="552.4" y="272.7" width="12.6" height="7.3" rx="1.2" fill="#fff" stroke="#1c1c1c" stroke-width="0.6"/>
<text x="554.8" y="278.3" font-size="4.5" font-weight="normal" fill="#111" stroke="#111" stroke-width="0.16" textLength="7.8" lengthAdjust="spacingAndGlyphs">A32</text>
<path d="M573.1999999999999 270.4 H591.5 Q592.8 270.4 592.8 271.7 V279.09999999999997 Q592.8 280.4 591.5 280.4 H581.0 L578.0 283.2 L577.4 280.4 H573.1999999999999 Q571.9 280.4 571.9 279.09999999999997 V271.7 Q571.9 270.4 573.1999999999999 270.4 Z" fill="#fff" stroke="#1c1c1c" stroke-width="0.7" stroke-linejoin="round"/>
<text x="577.2" y="278.2" font-size="8" font-weight="bold" fill="#111" textLength="9.6" lengthAdjust="spacingAndGlyphs">A3</text>
<circle cx="593.6" cy="272.5" r="3.6" fill="#111"/><path d="M591.7 272.6 L593.1 274 L595.6 271" stroke="#fff" stroke-width="0.9" fill="none"/>
<path d="M582.4 286.4 V284.6" stroke="#1c1c1c" stroke-width="0.6"/>
<path d="M582.40 283.00 L583.35 285.00 L581.45 285.00 Z" fill="#1c1c1c"/>
<rect x="575.4" y="286.6" width="13.6" height="7.5" rx="1.2" fill="#fff" stroke="#1c1c1c" stroke-width="0.6"/>
<text x="578.0" y="292.4" font-size="4.5" font-weight="normal" fill="#111" stroke="#111" stroke-width="0.16" textLength="8.4" lengthAdjust="spacingAndGlyphs">A33</text>
<text x="574.9" y="301.1" font-size="5.8" font-weight="normal" fill="#111" stroke="#111" stroke-width="0.16" textLength="15.5" lengthAdjust="spacingAndGlyphs">Select</text>
<text x="485.8" y="296.4" font-size="5.6" font-weight="normal" fill="#111" stroke="#111" stroke-width="0.16" textLength="62.3" lengthAdjust="spacingAndGlyphs">Select based on Answer</text>
<path d="M439.7 244.3 V233.6" stroke="#1c1c1c" stroke-width="0.75"/>
<path d="M439.70 231.20 L441.00 234.00 L438.40 234.00 Z" fill="#1c1c1c"/>
<path d="M439.7 252.4 V285.6 Q439.7 288 442.1 288 H568.6" stroke="#1c1c1c" stroke-width="0.6" fill="none" stroke-dasharray="1.5 1.1"/>
<path d="M571.90 288.00 L568.70 289.40 L568.70 286.60 Z" fill="#1c1c1c"/>
<path d="M533.2 209 Q560 210 574 224 Q587 238 587.9 262.6" stroke="#1c1c1c" stroke-width="0.6" fill="none" stroke-dasharray="1.5 1.1"/>
<path d="M587.90 266.30 L586.60 263.30 L589.20 263.30 Z" fill="#1c1c1c"/>
<path d="M533.2 212.7 Q552 216 564 232 Q575 247 579.6 262.8" stroke="#1c1c1c" stroke-width="0.6" fill="none" stroke-dasharray="1.5 1.1"/>
<path d="M580.40 266.30 L578.41 263.70 L580.94 263.07 Z" fill="#1c1c1c"/>
<path d="M550.3 244.1 Q562 246 568.6 254 Q572.6 259 574.2 263" stroke="#1c1c1c" stroke-width="0.6" fill="none" stroke-dasharray="1.5 1.1"/>
<path d="M575.20 266.30 L572.95 263.93 L575.40 263.04 Z" fill="#1c1c1c"/>
<path d="M559 261.6 Q564 262.2 568 264.4" stroke="#1c1c1c" stroke-width="0.6" fill="none" stroke-dasharray="1.5 1.1"/>
<path d="M571.00 266.00 L567.74 265.74 L568.96 263.44 Z" fill="#1c1c1c"/>
<path d="M425.5 422.7 V410 a2.5 2.5 0 0 1 2.5 -2.5 H464.9 a2.5 2.5 0 0 1 2.5 2.5 V422.7 Z" fill="#111"/>
<g transform="translate(432.8 419.6)" fill="#fff"><rect x="-1.5" y="-7" width="3" height="3.4" rx="0.4" transform="rotate(22.5)"/><rect x="-1.5" y="-7" width="3" height="3.4" rx="0.4" transform="rotate(67.5)"/><rect x="-1.5" y="-7" width="3" height="3.4" rx="0.4" transform="rotate(112.5)"/><rect x="-1.5" y="-7" width="3" height="3.4" rx="0.4" transform="rotate(157.5)"/><rect x="-1.5" y="-7" width="3" height="3.4" rx="0.4" transform="rotate(202.5)"/><rect x="-1.5" y="-7" width="3" height="3.4" rx="0.4" transform="rotate(247.5)"/><rect x="-1.5" y="-7" width="3" height="3.4" rx="0.4" transform="rotate(292.5)"/><rect x="-1.5" y="-7" width="3" height="3.4" rx="0.4" transform="rotate(337.5)"/><circle r="5.3"/><circle r="2.6" fill="#111"/></g>
<g transform="translate(451.2 423.4) rotate(-21.6)"><path d="M-2.5 0 V-13.6 Q-5.6 -15.2 -5.6 -18.8 Q-5.6 -22 -2.8 -23.6 V-19 Q-2.8 -17.6 0 -17.6 Q2.8 -17.6 2.8 -19 V-23.6 Q5.6 -22 5.6 -18.8 Q5.6 -15.2 2.5 -13.6 V0 Z" fill="#fff" stroke="#111" stroke-width="1.1" stroke-linejoin="round"/><path d="M0 -1 V-13" stroke="#111" stroke-width="0.6"/></g>
<path d="M455.9 422.7 Q456 416.2 461 415.6 H464.4 Q467.4 415.8 468 418.6 Q468.2 420.4 466.4 421.2 Q465.2 420 463.8 420.2 V422.7 Z" fill="#fff"/>
<path d="M459.4 422.7 V420.4 Q461.4 419.4 463.2 420.4 V422.7 Z" fill="#111"/>
<rect x="421.5" y="422.7" width="50.2" height="14.2" rx="1.8" fill="#fff" stroke="#111" stroke-width="1.2"/>
<rect x="443.9" y="426.7" width="5" height="2.2" rx="0.4" fill="#111"/>
<text x="438.5" y="445.1" font-size="6.6" fill="#111" stroke="#111" stroke-width="0.28" textLength="17.6" lengthAdjust="spacingAndGlyphs">Tools</text>
<text x="494.4" y="423.7" font-size="6.6" font-weight="normal" fill="#111" stroke="#111" stroke-width="0.16" textLength="26.2" lengthAdjust="spacingAndGlyphs">Interact</text>
<text x="494.4" y="449.3" font-size="6.6" font-weight="normal" fill="#111" stroke="#111" stroke-width="0.16" textLength="27.1" lengthAdjust="spacingAndGlyphs">Observe</text>
<path d="M475.1 428.2 H543" stroke="#111" stroke-width="1.1"/>
<path d="M547.40 428.20 L542.00 431.10 L542.00 425.30 Z" fill="#111"/>
<path d="M538.7 438.8 H479.6" stroke="#111" stroke-width="0.9" stroke-dasharray="2.4 1.4"/>
<path d="M474.50 438.80 L479.90 435.90 L479.90 441.70 Z" fill="#111"/>
<g stroke="#111" stroke-width="0.95" fill="#fff" stroke-linejoin="round"><path d="M539.1 442.2 H546.7 M578.2 442.2 H587.1 M539.1 442.2 Q541.4 431.4 550.6 430.4 H577.4 Q584.8 431.4 587.1 442.2 M544.8 434.5 V440.2 M580.5 434.5 V440.2" fill="none"/><path d="M556.3 422 V430.4 M569.1 422 V430.4" fill="none"/><ellipse cx="551.7" cy="415.2" rx="1.9" ry="2.9"/><ellipse cx="573.1" cy="415.2" rx="1.9" ry="2.9"/><path d="M553.5 411 Q553.5 403 562.3 403 Q571.1 403 571.1 411 V415 Q570.6 420.4 567.6 422.9 H557 Q554 420.4 553.5 415 Z"/></g>
<path d="M556.8 424 Q562.7 425.6 568.6 424 V426 Q562.7 427 556.8 426 Z" fill="#bdbdbd"/>
<circle cx="558.7" cy="412.9" r="1.45" fill="#111"/><circle cx="566.4" cy="412.9" r="1.45" fill="#111"/>
<g stroke="#111" stroke-width="0.95" fill="none"><path d="M563.8 435.5 L549.7 441.9 L563.8 447.9 L569.4 451.8 L575.6 441.9 L563.8 435.5 M550.6 443.6 L568.4 450.6 M575.6 441.9 L563.8 447.9"/></g>
<g stroke="#111" stroke-width="0.95" fill="#fff"><circle cx="563.8" cy="435.5" r="2.5"/><circle cx="549.7" cy="441.9" r="2.3"/><circle cx="575.6" cy="441.9" r="2.3"/><circle cx="563.8" cy="447.9" r="2.3"/><circle cx="569.4" cy="451.8" r="2.2"/></g>
<text x="551.9" y="462.7" font-size="7.2" fill="#111" stroke="#111" stroke-width="0.28" textLength="22.7" lengthAdjust="spacingAndGlyphs">Agent</text>

</svg>
</body></html>
